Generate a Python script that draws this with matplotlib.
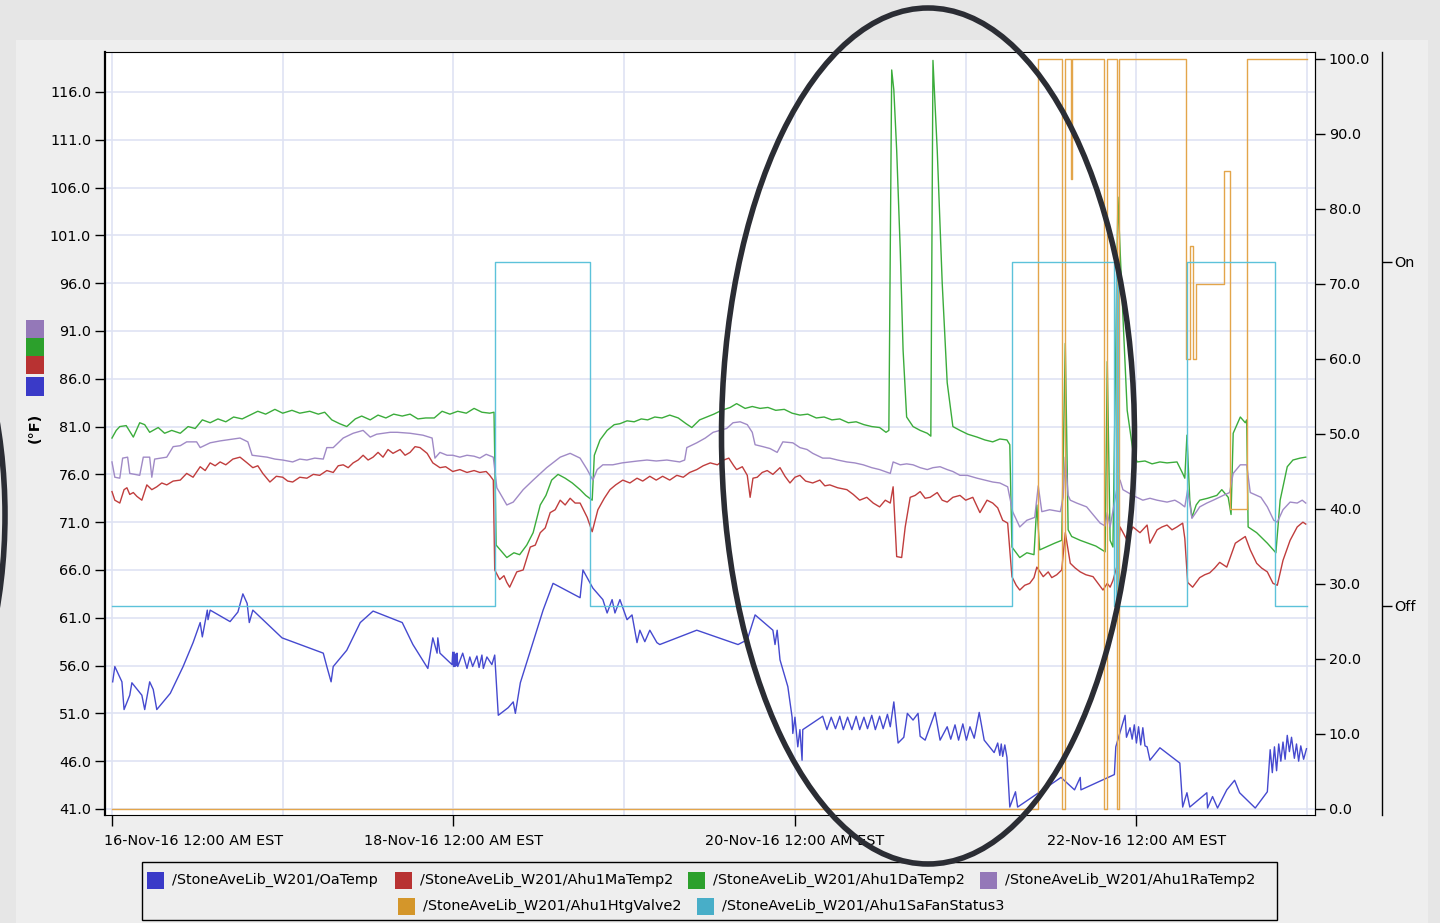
import matplotlib
matplotlib.use('Agg')
import numpy as np
import matplotlib.pyplot as plt
import matplotlib.dates as mdates
import matplotlib.transforms as mtransforms
from matplotlib.patches import Rectangle, Ellipse
from datetime import datetime, timedelta

# time in hours after 16-Nov-16 12:00 AM EST, value
oa_pts = [(0.1, 54.3), (0.4, 55.9), (1.4, 54.3), (1.7, 51.4), (2.5, 52.9), (2.8, 54.2), (4.2, 52.9), (4.6, 51.4),
          (5.3, 54.3), (5.8, 53.5), (6.3, 51.4), (8.2, 53.1), (10.0, 55.9), (11.4, 58.4), (12.4, 60.5), (12.7, 59.0),
          (13.4, 61.8), (13.5, 60.8), (13.8, 61.8), (16.6, 60.6), (17.7, 61.6), (18.4, 63.5), (19.0, 62.5), (19.3, 60.5),
          (19.8, 61.8), (23.9, 58.9), (29.7, 57.3), (30.2, 55.9), (30.8, 54.3), (31.1, 55.9), (33.0, 57.6), (34.9, 60.5),
          (36.7, 61.7), (40.8, 60.5), (42.3, 58.2), (44.4, 55.7), (45.1, 58.9), (45.7, 57.3), (45.8, 58.9), (46.1, 57.3),
          (47.8, 56.1), (47.9, 57.4), (48.0, 55.9), (48.1, 57.4), (48.2, 55.9), (48.3, 57.2), (48.4, 56.0), (48.5, 57.3),
          (48.6, 55.9), (49.3, 57.3), (49.9, 55.7), (50.3, 56.9), (50.7, 55.9), (51.3, 57.0), (51.6, 55.8), (52.0, 57.1),
          (52.2, 55.7), (52.7, 56.9), (53.4, 56.1), (53.8, 57.1), (54.3, 50.8), (55.7, 51.6), (56.4, 52.2), (56.7, 51.0),
          (57.4, 54.2), (60.6, 61.8), (62.0, 64.6), (65.8, 63.1), (66.2, 66.0), (67.6, 64.1), (69.0, 62.9), (69.6, 61.5),
          (70.3, 62.9), (70.7, 61.5), (71.4, 62.9), (72.4, 60.8), (73.1, 61.3), (73.8, 58.4), (74.2, 59.7), (74.9, 58.5),
          (75.6, 59.7), (76.6, 58.4), (77.0, 58.2), (82.2, 59.7), (88.0, 58.2), (89.3, 58.7), (90.4, 61.3), (92.9, 59.7),
          (93.2, 58.2), (93.5, 59.7), (93.9, 56.6), (95.0, 53.8), (95.6, 50.6), (95.7, 48.9), (96.0, 50.6), (96.4, 47.5),
          (96.7, 49.3), (97.0, 46.1), (97.1, 49.3), (99.9, 50.7), (100.5, 49.3), (101.1, 50.6), (101.7, 49.4), (102.3, 50.7),
          (102.8, 49.3), (103.4, 50.6), (104.0, 49.3), (104.6, 50.7), (105.1, 49.3), (105.7, 50.6), (106.2, 49.4),
          (106.8, 50.8), (107.3, 49.3), (107.9, 50.7), (108.4, 49.4), (109.0, 50.9), (109.4, 49.6), (109.9, 52.2),
          (110.5, 47.9), (111.3, 48.5), (111.8, 51.0), (112.6, 50.3), (113.3, 51.0), (113.6, 48.6), (114.3, 48.2),
          (115.7, 51.1), (116.4, 48.2), (117.4, 49.6), (117.9, 48.3), (118.5, 49.8), (119.0, 48.2), (119.6, 49.9),
          (120.1, 48.2), (120.6, 49.6), (121.2, 48.4), (121.9, 51.1), (122.6, 48.2), (124.0, 46.9), (124.5, 47.9),
          (124.8, 46.6), (125.0, 47.8), (125.2, 46.5), (125.5, 47.7), (125.8, 46.4), (126.2, 41.2), (127.0, 42.8),
          (127.3, 41.2), (133.4, 44.3), (135.3, 43.0), (136.1, 44.3), (136.2, 43.0), (140.9, 44.6), (141.1, 47.5),
          (142.4, 50.8), (142.6, 48.5), (143.1, 49.5), (143.4, 48.3), (143.7, 49.8), (144.0, 47.9), (144.3, 49.6),
          (144.6, 47.7), (144.9, 49.5), (145.2, 47.6), (145.5, 47.5), (145.9, 46.1), (147.3, 47.4), (150.1, 45.8),
          (150.5, 41.2), (151.1, 42.7), (151.5, 41.2), (153.9, 42.7), (154.0, 41.1), (154.7, 42.3), (155.4, 41.1),
          (156.7, 43.0), (157.8, 44.0), (158.5, 42.7), (160.7, 41.1), (162.4, 42.8), (162.8, 47.2), (163.1, 44.8),
          (163.4, 47.5), (163.7, 45.0), (164.0, 47.8), (164.3, 46.0), (164.6, 48.0), (164.9, 46.2), (165.2, 48.7),
          (165.5, 47.0), (165.8, 48.5), (166.2, 46.3), (166.5, 47.8), (166.8, 46.0), (167.1, 47.6), (167.5, 46.2),
          (167.9, 47.3)]

ma_pts = [(0.0, 74.2), (0.4, 73.3), (1.1, 73.0), (1.7, 74.4), (2.1, 74.6), (2.5, 73.9), (3.0, 74.1), (3.5, 73.7),
          (4.2, 73.3), (4.9, 74.9), (5.6, 74.4), (6.3, 74.7), (7.0, 75.1), (7.7, 74.9), (8.6, 75.3), (9.6, 75.4),
          (10.5, 76.1), (11.4, 75.7), (12.4, 76.8), (13.1, 76.4), (13.8, 77.2), (14.5, 76.9), (15.2, 77.3), (16.0, 77.0),
          (17.0, 77.6), (18.0, 77.8), (19.0, 77.2), (19.8, 76.7), (20.5, 76.9), (21.2, 76.1), (22.2, 75.2), (23.1, 75.8),
          (24.0, 75.7), (24.7, 75.3), (25.4, 75.2), (26.4, 75.7), (27.4, 75.6), (28.3, 76.0), (29.2, 75.9), (30.2, 76.4),
          (31.1, 76.2), (31.8, 76.9), (32.5, 77.0), (33.2, 76.7), (33.9, 77.2), (34.6, 77.5), (35.3, 78.0), (36.0, 77.5),
          (36.7, 77.8), (37.4, 78.3), (38.1, 77.8), (38.8, 78.6), (39.5, 78.2), (40.5, 78.6), (41.2, 78.0), (41.9, 78.3),
          (42.6, 78.9), (43.3, 78.8), (44.3, 78.2), (45.1, 77.2), (46.1, 76.7), (46.9, 76.8), (47.9, 76.3), (48.9, 76.5),
          (49.9, 76.2), (50.9, 76.4), (51.7, 76.2), (52.6, 76.3), (53.1, 75.9), (53.6, 75.4), (53.8, 66.0), (54.5, 65.0),
          (55.1, 65.4), (55.5, 64.7), (55.9, 64.2), (56.9, 65.8), (57.8, 66.0), (58.8, 68.4), (59.5, 68.6), (60.2, 69.9),
          (60.9, 70.4), (61.6, 72.0), (62.3, 72.3), (63.0, 73.3), (63.7, 72.8), (64.4, 73.5), (65.1, 73.0), (65.8, 73.0),
          (66.8, 71.5), (67.5, 70.0), (68.3, 72.3), (69.2, 73.5), (70.0, 74.4), (70.8, 74.9), (71.8, 75.4), (72.8, 75.1),
          (73.8, 75.6), (74.6, 75.3), (75.6, 75.8), (76.5, 75.4), (77.4, 75.8), (78.4, 75.4), (79.4, 75.9), (80.3, 75.7),
          (81.2, 76.2), (82.2, 76.5), (83.1, 76.9), (84.1, 77.2), (85.1, 77.0), (86.0, 77.5), (86.7, 77.7), (87.4, 76.9),
          (87.8, 76.5), (88.6, 76.8), (89.3, 75.9), (89.7, 73.6), (90.1, 75.6), (90.7, 75.7), (91.4, 76.2), (92.1, 76.4),
          (92.9, 76.0), (93.9, 76.7), (94.6, 75.8), (95.3, 75.1), (96.0, 75.7), (96.7, 75.9), (97.5, 75.3), (98.5, 75.1),
          (99.5, 75.4), (100.2, 74.8), (100.9, 74.9), (102.0, 74.6), (103.3, 74.4), (104.2, 73.9), (105.1, 73.3),
          (106.1, 73.6), (107.0, 73.0), (107.9, 72.6), (108.7, 73.3), (109.4, 73.0), (109.8, 74.7), (110.3, 67.4),
          (111.0, 67.3), (111.5, 70.5), (112.2, 73.6), (112.9, 73.8), (113.6, 74.2), (114.3, 73.5), (115.0, 73.6),
          (116.0, 74.1), (116.7, 73.3), (117.4, 73.1), (118.2, 73.6), (119.2, 73.8), (120.0, 73.3), (121.0, 73.6),
          (122.0, 72.0), (123.0, 73.3), (123.8, 73.0), (124.5, 72.5), (125.2, 71.2), (125.9, 70.9), (126.5, 65.3),
          (127.1, 64.4), (127.6, 63.9), (128.3, 64.4), (129.0, 64.6), (129.6, 65.2), (130.0, 66.3), (130.9, 65.3),
          (131.6, 65.8), (132.1, 65.2), (132.8, 65.5), (133.5, 66.0), (134.0, 69.9), (134.7, 66.7), (135.4, 66.2),
          (136.1, 65.8), (136.9, 65.5), (137.9, 65.3), (138.6, 64.6), (139.3, 63.9), (139.9, 64.6), (140.3, 64.2),
          (140.7, 64.9), (141.3, 66.5), (141.7, 70.5), (142.7, 69.1), (143.5, 70.5), (144.5, 69.9), (145.5, 70.7),
          (145.9, 68.8), (146.9, 70.2), (147.6, 70.5), (148.3, 70.7), (149.0, 70.2), (149.7, 70.5), (150.5, 70.9),
          (150.8, 69.3), (151.2, 64.7), (151.9, 64.2), (152.9, 65.2), (153.6, 65.5), (154.3, 65.7), (155.0, 66.2),
          (155.7, 66.8), (156.7, 66.3), (157.9, 68.8), (158.5, 69.1), (159.3, 69.5), (160.0, 68.1), (160.9, 66.7),
          (161.6, 66.2), (162.4, 65.8), (163.2, 64.6), (163.8, 64.4), (164.6, 67.0), (165.6, 69.1), (166.6, 70.5),
          (167.4, 71.0), (167.8, 70.8)]

da_pts = [(0.0, 79.8), (0.6, 80.6), (1.1, 81.0), (2.0, 81.1), (3.0, 79.9), (3.9, 81.4), (4.6, 81.2), (5.3, 80.4),
          (6.5, 80.9), (7.4, 80.3), (8.4, 80.6), (9.6, 80.3), (10.7, 81.0), (11.7, 80.8), (12.7, 81.7), (13.8, 81.4),
          (14.9, 81.8), (16.0, 81.5), (17.1, 82.0), (18.3, 81.8), (19.4, 82.2), (20.5, 82.6), (21.6, 82.3), (22.9, 82.8),
          (24.0, 82.4), (25.3, 82.7), (26.4, 82.4), (27.8, 82.6), (29.0, 82.3), (29.9, 82.5), (30.9, 81.7), (32.0, 81.3),
          (33.0, 81.0), (34.2, 81.8), (35.1, 82.1), (36.3, 81.7), (37.4, 82.2), (38.5, 81.9), (39.6, 82.3), (40.8, 82.1),
          (41.9, 82.3), (43.0, 81.8), (44.1, 81.9), (45.3, 81.9), (46.4, 82.6), (47.5, 82.3), (48.6, 82.6), (49.8, 82.4),
          (50.9, 82.9), (52.0, 82.5), (53.1, 82.4), (53.7, 82.5), (54.0, 68.6), (54.8, 67.9), (55.5, 67.3), (56.5, 67.8),
          (57.3, 67.6), (58.3, 68.6), (59.2, 69.9), (60.2, 72.8), (61.0, 73.8), (61.8, 75.4), (62.7, 76.0), (63.7, 75.6),
          (64.7, 75.1), (65.8, 74.4), (66.6, 73.8), (67.5, 73.3), (67.8, 78.0), (68.6, 79.6), (69.6, 80.6), (70.6, 81.2),
          (71.4, 81.3), (72.4, 81.6), (73.4, 81.5), (74.4, 81.8), (75.3, 81.7), (76.3, 82.0), (77.3, 81.9), (78.4, 82.2),
          (79.6, 81.9), (80.7, 81.3), (81.5, 80.9), (82.6, 81.7), (83.6, 82.0), (84.6, 82.3), (85.7, 82.7), (86.9, 83.0),
          (87.8, 83.4), (89.0, 82.9), (90.0, 83.1), (91.1, 82.9), (92.2, 83.0), (93.3, 82.7), (94.5, 82.8), (95.6, 82.4),
          (96.7, 82.2), (97.8, 82.3), (99.0, 81.9), (100.1, 82.0), (101.2, 81.7), (102.3, 81.8), (103.5, 81.4),
          (104.6, 81.5), (105.7, 81.2), (106.8, 81.0), (107.9, 80.9), (108.8, 80.4), (109.2, 80.6), (109.6, 118.3),
          (109.9, 116.2), (110.3, 109.9), (110.8, 99.5), (111.2, 89.0), (111.7, 82.0), (112.6, 81.0), (113.6, 80.6),
          (114.6, 80.3), (115.1, 80.0), (115.4, 119.3), (116.0, 109.9), (116.7, 96.0), (117.4, 85.6), (118.2, 81.0),
          (119.2, 80.6), (120.3, 80.2), (121.6, 79.9), (122.7, 79.6), (123.8, 79.4), (124.8, 79.7), (125.8, 79.6),
          (126.2, 79.1), (126.5, 68.4), (127.6, 67.3), (128.6, 67.8), (129.6, 67.6), (130.0, 72.8), (130.4, 68.1),
          (131.6, 68.5), (132.5, 68.8), (133.5, 69.1), (134.0, 89.7), (134.4, 70.2), (134.9, 69.5), (136.1, 69.1),
          (137.2, 68.8), (138.3, 68.5), (139.6, 67.9), (139.9, 87.8), (140.3, 69.1), (140.7, 68.4), (141.4, 105.0),
          (142.0, 94.2), (142.7, 82.7), (143.5, 78.5), (144.1, 77.3), (145.2, 77.4), (146.2, 77.1), (147.3, 77.3),
          (148.3, 77.2), (149.7, 77.3), (150.5, 76.1), (150.8, 75.6), (151.1, 80.1), (151.5, 73.3), (151.8, 71.5),
          (152.4, 72.8), (152.9, 73.3), (154.0, 73.5), (155.3, 73.8), (156.0, 74.4), (156.9, 73.6), (157.3, 71.8),
          (157.6, 80.3), (158.6, 82.0), (159.3, 81.4), (159.5, 81.7), (159.7, 70.5), (160.9, 69.9), (162.4, 68.8),
          (163.6, 67.8), (164.2, 73.3), (165.2, 76.8), (166.0, 77.5), (167.0, 77.7), (167.8, 77.8)]

ra_pts = [(0.0, 77.3), (0.4, 75.7), (1.1, 75.6), (1.5, 77.7), (2.2, 77.8), (2.5, 76.1), (3.9, 75.9), (4.4, 77.8),
          (5.3, 77.8), (5.6, 75.7), (6.0, 77.6), (7.7, 77.8), (8.6, 78.9), (9.6, 79.0), (10.5, 79.4), (11.9, 79.4),
          (12.4, 78.8), (13.8, 79.3), (15.2, 79.5), (17.0, 79.7), (18.0, 79.8), (19.1, 79.4), (19.7, 78.0), (20.8, 77.9),
          (21.8, 77.8), (22.9, 77.6), (24.0, 77.5), (25.4, 77.3), (26.4, 77.6), (27.4, 77.5), (28.5, 77.7), (29.7, 77.6),
          (30.2, 78.8), (31.1, 78.8), (32.5, 79.8), (33.9, 80.3), (35.3, 80.6), (36.3, 79.9), (37.2, 80.2), (38.1, 80.3),
          (39.1, 80.4), (40.1, 80.4), (41.9, 80.3), (43.7, 80.1), (45.0, 79.8), (45.4, 77.7), (46.1, 78.3), (47.1, 78.0),
          (47.9, 78.0), (48.9, 77.8), (49.9, 78.0), (50.9, 77.9), (51.7, 77.7), (52.6, 78.1), (53.6, 77.8), (54.1, 74.6),
          (55.5, 72.8), (56.4, 73.1), (57.8, 74.4), (59.2, 75.4), (61.1, 76.7), (63.0, 77.8), (64.4, 78.2), (65.8, 77.7),
          (66.8, 76.5), (67.6, 75.4), (68.2, 76.5), (69.0, 77.0), (70.4, 77.0), (71.7, 77.2), (72.8, 77.3), (73.9, 77.4),
          (75.2, 77.5), (76.5, 77.4), (78.0, 77.5), (79.8, 77.3), (80.5, 77.5), (80.8, 78.8), (82.2, 79.3), (83.4, 79.8),
          (84.5, 80.4), (86.4, 80.8), (87.3, 81.4), (88.3, 81.5), (89.3, 81.2), (90.0, 80.4), (90.4, 79.1), (91.5, 78.9),
          (92.5, 78.7), (93.5, 78.3), (94.3, 79.4), (95.7, 79.3), (96.7, 78.8), (97.7, 78.6), (98.5, 78.2), (99.9, 77.7),
          (100.9, 77.7), (102.0, 77.5), (103.3, 77.3), (104.4, 77.2), (105.6, 77.0), (106.8, 76.7), (107.9, 76.5),
          (109.4, 76.1), (109.8, 77.3), (110.8, 77.0), (111.7, 77.1), (112.6, 77.0), (113.6, 76.7), (114.6, 76.5),
          (115.4, 76.7), (116.4, 76.8), (117.4, 76.5), (118.2, 76.3), (119.2, 75.9), (120.2, 75.9), (121.6, 75.6),
          (122.7, 75.4), (123.8, 75.2), (124.8, 75.1), (125.9, 74.7), (126.6, 72.1), (127.6, 70.5), (128.6, 71.2),
          (129.7, 71.5), (130.2, 74.8), (130.7, 72.1), (131.8, 72.3), (133.3, 72.1), (133.7, 73.6), (134.0, 77.8),
          (134.4, 73.8), (134.7, 73.3), (135.6, 73.0), (137.0, 72.6), (137.9, 71.8), (138.9, 70.9), (139.6, 70.6),
          (139.9, 72.0), (140.3, 70.5), (141.3, 74.7), (141.7, 75.4), (142.1, 74.4), (143.5, 73.8), (144.9, 73.3),
          (145.9, 73.5), (146.9, 73.3), (148.3, 73.1), (149.4, 73.3), (150.1, 73.0), (150.8, 72.6), (151.2, 74.4),
          (151.8, 71.4), (152.9, 72.6), (153.9, 73.0), (154.8, 73.3), (156.2, 73.8), (157.1, 74.1), (157.6, 76.1),
          (158.6, 77.0), (159.5, 77.0), (160.0, 74.1), (161.5, 73.6), (162.4, 72.6), (163.3, 71.2), (163.8, 71.0),
          (164.6, 72.3), (165.6, 73.1), (166.6, 73.0), (167.3, 73.3), (167.8, 73.0)]

# heating valve (%), value holds until next change
valve_pts = [(0.0, 0), (130.1, 100), (133.5, 0), (134.0, 100), (134.8, 84), (135.0, 100), (139.5, 0), (139.8, 100),
             (141.2, 0), (141.6, 100), (151.0, 60), (151.5, 75), (151.9, 60), (152.4, 70), (156.3, 85), (157.2, 40),
             (159.6, 100), (168.0, 100)]

# supply fan status, 0 = Off, 1 = On
fan_pts = [(0.0, 0), (53.8, 1), (67.2, 0), (126.5, 1), (140.8, 0), (141.1, 1), (141.4, 0), (151.1, 1),
           (163.5, 0), (168.0, 0)]

names = ['/StoneAveLib_W201/OaTemp', '/StoneAveLib_W201/Ahu1MaTemp2', '/StoneAveLib_W201/Ahu1DaTemp2',
         '/StoneAveLib_W201/Ahu1RaTemp2', '/StoneAveLib_W201/Ahu1HtgValve2', '/StoneAveLib_W201/Ahu1SaFanStatus3']
line_colors = ['#4549cf', '#c03d3d', '#3bac3b', '#a08ac6', '#e3a54a', '#5cc2da']
key_colors = ['#3a3ac8', '#b83232', '#2ca02c', '#9478b8', '#d4962a', '#48aec8']

start = datetime(2016, 11, 16)


def to_xy(pts):
    t = [start + timedelta(hours=h) for h, v in pts]
    return t, [v for h, v in pts]


W, H = 1440, 923
fig = plt.figure(figsize=(W / 100, H / 100), dpi=100, facecolor='#e6e6e6')
fig.add_artist(Rectangle((16 / W, 0), 1412 / W, 1 - 40 / H, transform=fig.transFigure,
                         facecolor='#eeeeee', edgecolor='none', zorder=-5))

ax = fig.add_axes([105 / W, 1 - 815 / H, 1210 / W, 763 / H])
ax.set_facecolor('white')
plt.rcParams['font.family'] = 'DejaVu Sans'
fs = 10.4

# temperature lines
for pts, c in zip([oa_pts, ma_pts, da_pts, ra_pts], line_colors[:4]):
    t, v = to_xy(pts)
    ax.plot(t, v, color=c, lw=1.0)

ax.set_xlim(start - timedelta(hours=0.98), start + timedelta(hours=169.1))
ax.set_ylim(40.37, 120.18)
ax.set_yticks(np.arange(41, 117, 5))
ax.yaxis.set_major_formatter(plt.FormatStrFormatter('%.1f'))
ax.xaxis.set_major_locator(mdates.DayLocator(bymonthday=[16, 18, 20, 22]))
ax.xaxis.set_minor_locator(mdates.DayLocator())
ax.xaxis.set_major_formatter(plt.FuncFormatter(
    lambda x, p: mdates.num2date(x).strftime('%d-%b-%y') + ' 12:00 AM EST'))
ax.grid(True, which='both', color='#dfe3f3', lw=1.2)
ax.set_axisbelow(True)
ax.tick_params(axis='y', direction='out', length=7, width=1, labelsize=fs, pad=3)
ax.tick_params(axis='x', which='major', direction='out', length=8, width=1, labelsize=fs, pad=6)
ax.tick_params(axis='x', which='minor', length=0)
for s in ax.spines.values():
    s.set_linewidth(0.8)
ax.spines['left'].set_linewidth(1.6)

# shift first date label so it starts near the axis edge
fig.canvas.draw()
lab0 = ax.get_xticklabels()[0]
lab0.set_horizontalalignment('left')
lab0.set_transform(lab0.get_transform() + mtransforms.ScaledTranslation(-8 / 100, 0, fig.dpi_scale_trans))

# valve on right axis
ax2 = ax.twinx()
t, v = to_xy(valve_pts)
ax2.plot(t, v, color=line_colors[4], lw=1.0, drawstyle='steps-post')
ax2.set_ylim(-0.8, 100.93)
ax2.set_yticks(np.arange(0, 101, 10))
ax2.yaxis.set_major_formatter(plt.FormatStrFormatter('%.1f'))
ax2.tick_params(axis='y', direction='out', length=7, width=1, labelsize=fs, pad=3)
for k in ['left', 'top', 'bottom']:
    ax2.spines[k].set_visible(False)
ax2.spines['right'].set_linewidth(0.8)

# fan status on third axis
ax3 = ax.twinx()
t, v = to_xy(fan_pts)
ax3.plot(t, v, color=line_colors[5], lw=1.0, drawstyle='steps-post')
ax3.set_ylim(-0.608, 1.61)
ax3.set_yticks([0, 1])
ax3.set_yticklabels(['Off', 'On'])
ax3.spines['right'].set_position(('axes', 1277 / 1210))
for k in ['left', 'top', 'bottom']:
    ax3.spines[k].set_visible(False)
ax3.spines['right'].set_linewidth(1.0)
ax3.tick_params(axis='y', direction='out', length=7, width=1, labelsize=fs, pad=2)

# colour keys and unit label on the left
for i, c in enumerate([key_colors[3], key_colors[2], key_colors[1]]):
    fig.add_artist(Rectangle((26 / W, 1 - (338 + 18 * i) / H), 18 / W, 18 / H, transform=fig.transFigure,
                             facecolor=c, edgecolor='none'))
fig.add_artist(Rectangle((26 / W, 1 - 396 / H), 18 / W, 19 / H, transform=fig.transFigure,
                         facecolor=key_colors[0], edgecolor='none'))
fig.text(35 / W, 1 - 428 / H, '(°F)', rotation=90, ha='center', va='center', fontsize=fs, fontweight='bold')

# legend
fig.add_artist(Rectangle((142 / W, 1 - 920 / H), 1135 / W, 58 / H, transform=fig.transFigure,
                         facecolor='#eeeeee', edgecolor='black', lw=1.0, zorder=2))
key_x = [147, 395, 688, 980, 398, 697]
key_y = [880, 880, 880, 880, 906, 906]
for name, c, kx, ky in zip(names, key_colors, key_x, key_y):
    fig.add_artist(Rectangle((kx / W, 1 - (ky + 9) / H), 17 / W, 17 / H, transform=fig.transFigure,
                             facecolor=c, edgecolor='none', zorder=3))
    fig.text((kx + 25) / W, 1 - ky / H, name, ha='left', va='center', fontsize=fs, zorder=3)

# hand-drawn highlight ellipses
fig.add_artist(Ellipse((928 / W, 1 - 436 / H), 413 / W, 856 / H, transform=fig.transFigure,
                       facecolor='none', edgecolor='#2b2d34', lw=4.0, zorder=10))
fig.add_artist(Ellipse((-195 / W, 1 - 515 / H), 400 / W, 674 / H, transform=fig.transFigure,
                       facecolor='none', edgecolor='#2b2d34', lw=4.0, zorder=10))

fig.savefig('out.png', dpi=100, facecolor=fig.get_facecolor())
